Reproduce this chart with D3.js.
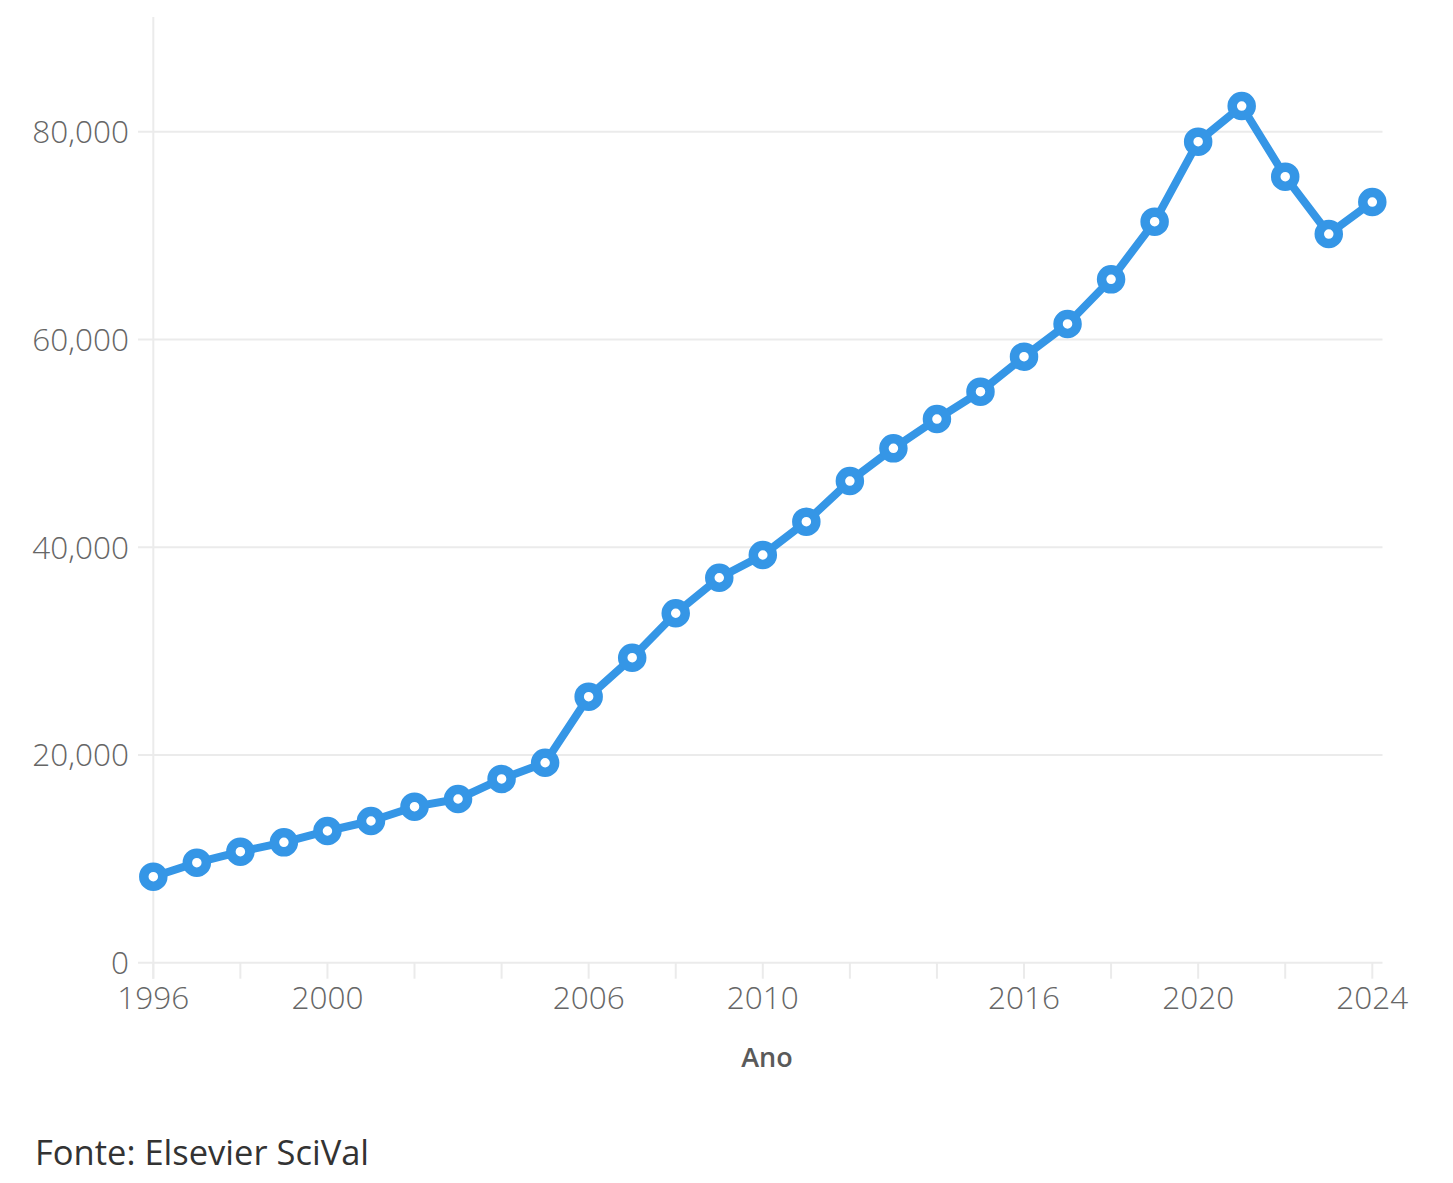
<!DOCTYPE html>
<html>
<head>
<meta charset="utf-8">
<script src="https://cdn.jsdelivr.net/npm/d3@7"></script>
<style>
  html, body { margin: 0; padding: 0; background: #fff; }
  svg { display: block; }
</style>
</head>
<body>
<svg id="chart" width="1453" height="1183"></svg>
<script>
const years = [1996,1997,1998,1999,2000,2001,2002,2003,2004,2005,2006,2007,2008,2009,2010,2011,2012,2013,2014,2015,2016,2017,2018,2019,2020,2021,2022,2023,2024];
const values = [8280,9630,10690,11590,12680,13640,15020,15760,17690,19250,25610,29360,33640,37060,39250,42460,46370,49520,52340,54970,58340,61490,65790,71340,79040,82470,75670,70150,73230];
const yTicks = [0,20000,40000,60000,80000];
const xTickMarks = [1996,1998,2000,2002,2004,2006,2008,2010,2012,2014,2016,2018,2020,2022,2024];
const xTickLabels = [1996,2000,2006,2010,2016,2020,2024];
const xTitle = "Ano";
const sourceText = "Fonte: Elsevier SciVal";

const svg = d3.select("#chart");
const font = "'Open Sans', 'Noto Sans', sans-serif";
const gridColor = "#ebebeb";
const lineColor = "#3596e6";

const x = d3.scaleLinear().domain([1996, 2024]).range([153.3, 1372.3]);
const y = d3.scaleLinear().domain([0, 80000]).range([962.7, 131.7]);
const yTop = 17;
const gridLeft = 138, gridRight = 1382.5;

svg.append("g").selectAll("line").data(yTicks).join("line")
  .attr("x1", gridLeft).attr("x2", gridRight)
  .attr("y1", d => y(d)).attr("y2", d => y(d))
  .attr("stroke", gridColor).attr("stroke-width", 2);

svg.append("line")
  .attr("x1", x(1996)).attr("x2", x(1996))
  .attr("y1", yTop).attr("y2", y(0) + 16)
  .attr("stroke", gridColor).attr("stroke-width", 2);

svg.append("g").selectAll("line").data(xTickMarks).join("line")
  .attr("x1", d => x(d)).attr("x2", d => x(d))
  .attr("y1", y(0)).attr("y2", y(0) + 16)
  .attr("stroke", gridColor).attr("stroke-width", 2);

svg.append("g").selectAll("text").data(yTicks).join("text")
  .attr("x", 129).attr("y", d => y(d) + 11.5)
  .attr("text-anchor", "end")
  .attr("font-family", font).attr("font-weight", 300)
  .attr("font-size", 31.5).attr("fill", "#666")
  .text(d => d3.format(",")(d));

svg.append("g").selectAll("text").data(xTickLabels).join("text")
  .attr("x", d => x(d)).attr("y", 1008.5)
  .attr("text-anchor", "middle")
  .attr("font-family", font).attr("font-weight", 300)
  .attr("font-size", 31.5).attr("fill", "#666")
  .text(d => d);

svg.append("text")
  .attr("x", 767).attr("y", 1067)
  .attr("text-anchor", "middle")
  .attr("font-family", font).attr("font-weight", 600)
  .attr("font-size", 27).attr("fill", "#5a5a5a")
  .text(xTitle);

const data = years.map((yr, i) => ({year: yr, value: values[i]}));
svg.append("path").datum(data)
  .attr("fill", "none").attr("stroke", lineColor)
  .attr("stroke-width", 8).attr("stroke-linejoin", "round")
  .attr("d", d3.line().x(d => x(d.year)).y(d => y(d.value)));

svg.append("g").selectAll("circle").data(data).join("circle")
  .attr("cx", d => x(d.year)).attr("cy", d => y(d.value))
  .attr("r", 9.5).attr("fill", "#fff")
  .attr("stroke", lineColor).attr("stroke-width", 9.5);

svg.append("text")
  .attr("x", 35).attr("y", 1165)
  .attr("font-family", font).attr("font-weight", 400)
  .attr("font-size", 34.5).attr("fill", "#333")
  .text(sourceText);
</script>
</body>
</html>
